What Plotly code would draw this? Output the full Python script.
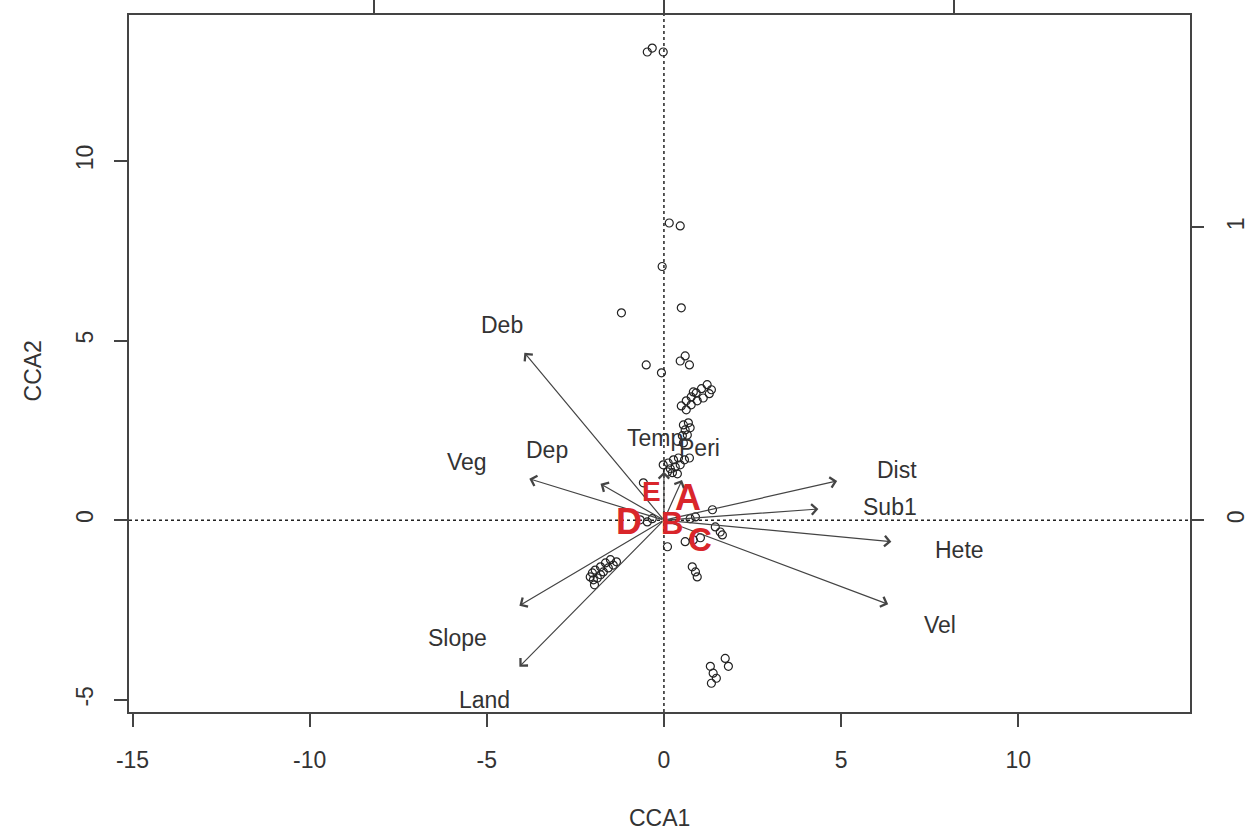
import plotly.graph_objects as go

# ---- Site scores (CCA1, CCA2) ----
site_x = [-0.47, -0.33, -0.02, 0.15, 0.46, -0.05, -1.20, 0.49, -0.50, -0.07,
          0.46, 0.60, 0.72,
          0.49, 0.63, 0.77, 0.91, 1.06, 1.22, 1.34, 1.28, 1.11, 0.94, 0.77, 0.63, 0.83,
          0.55, 0.69, 0.60, 0.74, 0.52, 0.66, 0.55,
          -0.02, 0.12, 0.27, 0.41, 0.58, 0.72, 0.18, 0.32, 0.46, 0.10, 0.24, 0.38,
          -0.58,
          -0.67, -0.47, -0.33, 0.74, 0.89, 1.37, 1.45, 1.59, 1.65, 0.60, 0.83, 1.03, 0.10,
          0.80, 0.89, 0.94,
          -1.51, -1.65, -1.43, -1.79, -1.57, -1.94, -1.71, -2.02, -1.79, -1.88, -1.99, -2.08, -1.34, -1.96,
          1.73, 1.82, 1.31, 1.39, 1.48, 1.34]
site_y = [13.03, 13.14, 13.03, 8.27, 8.19, 7.06, 5.77, 5.91, 4.32, 4.10,
          4.43, 4.57, 4.32,
          3.18, 3.32, 3.43, 3.54, 3.66, 3.77, 3.63, 3.52, 3.40, 3.32, 3.21, 3.07, 3.57,
          2.65, 2.71, 2.51, 2.57, 2.35, 2.37, 2.15,
          1.54, 1.59, 1.68, 1.73, 1.68, 1.73, 1.43, 1.48, 1.54, 1.34, 1.32, 1.29,
          1.04,
          0.01, -0.05, 0.04, 0.04, 0.09, 0.29, -0.19, -0.33, -0.41, -0.60, -0.55, -0.49, -0.74,
          -1.30, -1.44, -1.58,
          -1.10, -1.19, -1.25, -1.30, -1.33, -1.39, -1.44, -1.47, -1.52, -1.61, -1.66, -1.58, -1.16, -1.80,
          -3.85, -4.07, -4.07, -4.26, -4.40, -4.54]

# ---- Environmental biplot arrows ----
env_names = ["Deb", "Veg", "Dep", "Temp", "Peri", "Dist", "Sub1", "Hete", "Vel", "Slope", "Land"]
env_x = [-3.94, -3.80, -1.79, 0.00, 0.51, 4.89, 4.36, 6.42, 6.33, -4.08, -4.08]
env_y = [4.66, 1.15, 1.01, 1.35, 1.12, 1.09, 0.31, -0.60, -2.34, -2.38, -4.08]
env_label_x = [-4.56, -5.57, -3.29, -0.24, 0.99, 6.59, 6.39, 8.33, 7.80, -5.83, -5.07]
env_label_y = [5.44, 1.62, 1.95, 2.29, 2.01, 1.40, 0.37, -0.83, -2.92, -3.28, -5.01]

# ---- Group centroids ----
grp_names = ["A", "B", "C", "D", "E"]
grp_x = [0.69, 0.24, 1.03, -1.00, -0.36]
grp_y = [0.62, -0.10, -0.55, -0.05, 0.79]

# ---- Axis ticks ----
x_ticks = [-15, -10, -5, 0, 5, 10]
y_ticks = [-5, 0, 5, 10]
top_ticks = [-1, 0, 1]
right_ticks = [0, 1]

FONT = "Liberation Sans, Arial, sans-serif"
grp_sizes = [36, 31, 33, 36, 28]

fig = go.Figure()

fig.add_trace(go.Scatter(
    x=site_x, y=site_y, mode="markers",
    marker=dict(symbol="circle-open", size=8, color="#222", line=dict(width=1.2, color="#222")),
    hoverinfo="skip", showlegend=False))

# dummy trace for secondary (biplot-scale) axes
fig.add_trace(go.Scatter(x=[0], y=[0], xaxis="x2", yaxis="y2", mode="markers",
                         marker=dict(opacity=0), hoverinfo="skip", showlegend=False))

annotations = []
for n, x, y in zip(env_names, env_x, env_y):
    annotations.append(dict(
        x=x, y=y, ax=0, ay=0, xref="x", yref="y", axref="x", ayref="y",
        text="", showarrow=True, arrowhead=4, arrowsize=1.7, arrowwidth=1.2,
        arrowcolor="#444", standoff=0, startstandoff=0))

for n, x, y in zip(env_names, env_label_x, env_label_y):
    annotations.append(dict(x=x, y=y, xref="x", yref="y", text=n, showarrow=False,
                            font=dict(family=FONT, size=23, color="#333"),
                            xanchor="center", yanchor="middle"))

for n, x, y, s in zip(grp_names, grp_x, grp_y, grp_sizes):
    annotations.append(dict(x=x, y=y, xref="x", yref="y", text="<b>%s</b>" % n,
                            showarrow=False,
                            font=dict(family=FONT, size=s, color="#d9262b"),
                            xanchor="center", yanchor="middle"))

annotations.append(dict(x=0.5, y=-0.152, xref="paper", yref="paper", text="CCA1",
                        showarrow=False, font=dict(family=FONT, size=23, color="#333"),
                        xanchor="center", yanchor="middle"))
annotations.append(dict(x=-0.0905, y=0.49, xref="paper", yref="paper", text="CCA2",
                        showarrow=False, textangle=-90,
                        font=dict(family=FONT, size=23, color="#333"),
                        xanchor="center", yanchor="middle"))

shapes = [
    dict(type="line", xref="x", yref="paper", x0=0, x1=0, y0=0, y1=1,
         line=dict(color="#222", width=1.5, dash="dot")),
    dict(type="line", xref="paper", yref="y", x0=0, x1=1, y0=0, y1=0,
         line=dict(color="#222", width=1.5, dash="dot")),
]

tickfont = dict(family=FONT, size=23, color="#333")

fig.update_layout(
    width=1252, height=832,
    margin=dict(l=129, r=62, t=15, b=120, autoexpand=False),
    paper_bgcolor="white", plot_bgcolor="white",
    showlegend=False,
    xaxis=dict(range=[-15.10, 14.85], tickvals=x_ticks, ticktext=[str(v) for v in x_ticks],
               ticks="outside", ticklen=13, tickwidth=1.5, tickcolor="#444",
               showgrid=False, zeroline=False, showline=True, linecolor="#444",
               linewidth=1.5, mirror=True, tickfont=tickfont, ticklabelstandoff=14,
               automargin=False),
    yaxis=dict(range=[-5.34, 14.06], tickvals=y_ticks, ticktext=[str(v) for v in y_ticks],
               ticks="outside", ticklen=13, tickwidth=1.5, tickcolor="#444",
               showgrid=False, zeroline=False, showline=True, linecolor="#444",
               linewidth=1.5, mirror=True, tickfont=tickfont, tickangle=-90,
               ticklabelstandoff=12, automargin=False),
    xaxis2=dict(range=[-1.843, 1.815], overlaying="x", side="top", anchor="y",
                tickvals=top_ticks, ticks="outside", ticklen=15, tickwidth=1.5,
                tickcolor="#444", showticklabels=False, showgrid=False,
                zeroline=False, showline=False, automargin=False),
    yaxis2=dict(range=[-0.654, 1.725], overlaying="y", side="right", anchor="x",
                tickvals=right_ticks, ticktext=[str(v) for v in right_ticks],
                ticks="outside", ticklen=13, tickwidth=1.5, tickcolor="#444",
                tickfont=tickfont, tickangle=-90, showgrid=False, zeroline=False,
                showline=False, ticklabelstandoff=12, automargin=False),
    annotations=annotations,
    shapes=shapes,
)

fig.write_html("out.html")
